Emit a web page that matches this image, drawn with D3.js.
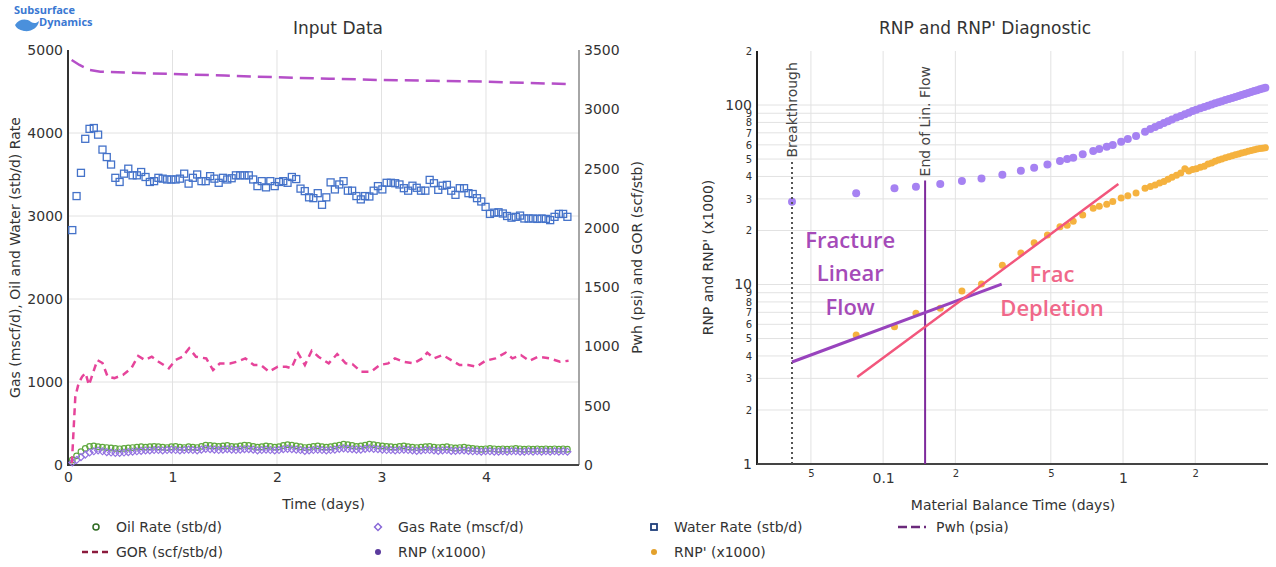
<!DOCTYPE html>
<html>
<head>
<meta charset="utf-8">
<script src="https://cdn.jsdelivr.net/npm/d3@7"></script>
<style>
  body { margin: 0; background: #fff; }
  svg text { font-family: "DejaVu Sans", Verdana, sans-serif; }
</style>
</head>
<body>
<svg id="chart" width="1276" height="567"></svg>
<script>
// ---- input data (left chart), hourly-ish samples ----
const inputTime = [
  0.041, 0.082, 0.124, 0.165, 0.206, 0.247, 0.288, 0.330, 0.371, 0.412,
  0.453, 0.494, 0.536, 0.577, 0.618, 0.659, 0.700, 0.742, 0.783, 0.824,
  0.865, 0.906, 0.948, 0.989, 1.030, 1.071, 1.112, 1.154, 1.195, 1.236,
  1.277, 1.318, 1.360, 1.401, 1.442, 1.483, 1.524, 1.566, 1.607, 1.648,
  1.689, 1.730, 1.772, 1.813, 1.854, 1.895, 1.936, 1.978, 2.019, 2.060,
  2.101, 2.142, 2.184, 2.225, 2.266, 2.307, 2.348, 2.390, 2.431, 2.472,
  2.513, 2.554, 2.596, 2.637, 2.678, 2.719, 2.760, 2.802, 2.843, 2.884,
  2.925, 2.966, 3.008, 3.049, 3.090, 3.131, 3.172, 3.214, 3.255, 3.296,
  3.337, 3.378, 3.420, 3.461, 3.502, 3.543, 3.584, 3.626, 3.667, 3.708,
  3.749, 3.790, 3.832, 3.873, 3.914, 3.955, 3.996, 4.038, 4.079, 4.120,
  4.161, 4.202, 4.244, 4.285, 4.326, 4.367, 4.408, 4.450, 4.491, 4.532,
  4.573, 4.614, 4.656, 4.697, 4.738, 4.779
]
const waterRate = [
  2830, 3240, 3520, 3930, 4050, 4060, 3980, 3800, 3710, 3620,
  3460, 3410, 3510, 3570, 3490, 3490, 3530, 3470, 3410, 3420,
  3460, 3450, 3440, 3440, 3440, 3450, 3510, 3390, 3460, 3500,
  3420, 3420, 3480, 3450, 3400, 3460, 3440, 3455, 3490, 3490,
  3490, 3490, 3440, 3360, 3420, 3345, 3420, 3360, 3410, 3420,
  3400, 3470, 3445, 3330, 3300, 3225, 3215, 3275, 3135, 3225,
  3405, 3320, 3380, 3420, 3305, 3305, 3240, 3200, 3240, 3235,
  3305, 3360, 3320, 3400, 3400, 3395, 3380, 3335, 3305, 3365,
  3340, 3305, 3305, 3435, 3395, 3315, 3365, 3375, 3305, 3255,
  3335, 3335, 3275, 3265, 3215, 3175, 3110, 3025, 3040, 3045,
  3030, 3000, 2980, 2990, 3005, 2970, 2970, 2970, 2965, 2970,
  2965, 2950, 2990, 3025, 3025, 2990
]
const oilRate = [
  60, 110, 160, 200, 225, 230, 220, 215, 210, 205,
  200, 195, 200, 205, 210, 215, 220, 215, 220, 225,
  220, 215, 210, 220, 225, 215, 210, 220, 215, 210,
  225, 240, 235, 230, 225, 230, 235, 225, 220, 230,
  240, 235, 225, 215, 220, 230, 225, 215, 220, 235,
  245, 240, 230, 220, 210, 215, 225, 230, 220, 215,
  220, 230, 240, 250, 245, 235, 225, 230, 240, 250,
  245, 235, 230, 225, 220, 215, 225, 230, 220, 215,
  210, 215, 220, 225, 215, 210, 215, 220, 210, 205,
  210, 215, 205, 200, 195, 190, 195, 200, 195, 190,
  195, 190, 195, 200, 195, 190, 195, 190, 195, 190,
  195, 190, 195, 190, 195, 190
]
const gasRate = [
  30, 60, 95, 125, 150, 165, 175, 165, 155, 150,
  145, 145, 150, 155, 160, 165, 170, 175, 175, 180,
  180, 175, 180, 185, 180, 175, 180, 185, 180, 175,
  185, 195, 190, 185, 180, 185, 190, 185, 180, 185,
  190, 190, 185, 175, 180, 185, 180, 175, 180, 190,
  195, 190, 185, 180, 170, 175, 180, 185, 180, 175,
  180, 185, 195, 200, 195, 190, 185, 185, 195, 200,
  195, 190, 185, 180, 180, 175, 180, 185, 180, 175,
  170, 175, 180, 180, 175, 170, 175, 180, 170, 170,
  175, 175, 170, 165, 165, 160, 165, 165, 160, 160,
  165, 160, 165, 165, 160, 160, 165, 160, 165, 160,
  165, 160, 165, 160, 165, 160
]
const gorTime = [
  0.037, 0.070, 0.102, 0.135, 0.168, 0.200, 0.281, 0.330, 0.379, 0.444,
  0.526, 0.607, 0.672, 0.737, 0.802, 0.867, 0.965, 1.030, 1.095, 1.160,
  1.225, 1.323, 1.388, 1.453, 1.551, 1.616, 1.697, 1.779, 1.844, 1.925,
  2.007, 2.088, 2.137, 2.202, 2.267, 2.332, 2.397, 2.495, 2.576, 2.657,
  2.722, 2.804, 2.901, 2.983, 3.064, 3.129, 3.211, 3.308, 3.390, 3.438,
  3.503, 3.585, 3.667, 3.748, 3.830, 3.911, 3.992, 4.090, 4.188, 4.253,
  4.334, 4.415, 4.497, 4.611, 4.708, 4.790
]
const gorValues = [
  15, 576, 690, 745, 775, 674, 885, 860, 745, 733,
  759, 818, 919, 885, 913, 871, 815, 885, 913, 984,
  913, 899, 801, 857, 857, 871, 899, 843, 843, 787,
  829, 829, 815, 942, 843, 964, 913, 857, 936, 857,
  851, 787, 787, 843, 857, 899, 871, 857, 899, 947,
  899, 927, 885, 843, 843, 829, 878, 899, 947, 899,
  927, 878, 913, 899, 871, 879
]
const pwhTime = [0.035, 0.11, 0.21, 0.31, 0.6, 1.0, 1.5, 2.0, 2.5, 3.0, 3.5, 4.0, 4.4, 4.79]
const pwhValues = [3416, 3374, 3331, 3317, 3308, 3298, 3284, 3270, 3258, 3247, 3240, 3233, 3222, 3213]

// ---- diagnostic data (right chart) ----
const mbt = [
  0.0417, 0.0772, 0.1115, 0.137, 0.173, 0.213, 0.257, 0.314, 0.375, 0.426,
  0.484, 0.546, 0.585, 0.620, 0.679, 0.751, 0.796, 0.855, 0.906, 0.982,
  1.047, 1.133, 1.235, 1.30, 1.36, 1.42, 1.48, 1.54, 1.60, 1.67,
  1.74, 1.81, 1.88, 1.95, 2.02, 2.10, 2.18, 2.26, 2.34, 2.42,
  2.50, 2.58, 2.67, 2.76, 2.85, 2.94, 3.03, 3.12, 3.22, 3.32,
  3.42, 3.52, 3.62, 3.72, 3.82, 3.92
]
const rnp = [
  28.9, 32.2, 34.4, 35.1, 36.3, 37.7, 39.0, 40.9, 43.1, 44.7,
  46.7, 48.7, 50.0, 50.9, 53.1, 55.4, 56.9, 58.6, 59.8, 62.5,
  64.7, 67.2, 71.0, 73.5, 75.5, 77.4, 79.3, 81.1, 83.0, 85.2,
  87.0, 88.9, 90.7, 92.6, 94.2, 96.0, 97.6, 99.2, 100.8, 102.2,
  103.6, 105.0, 106.5, 108.0, 109.5, 111.0, 112.4, 113.8, 115.3, 116.8,
  118.2, 119.6, 121.0, 122.3, 123.6, 124.8
]
const rnpPrime = [
  null, 5.23, 5.82, 6.91, 7.37, 9.20, 10.06, 12.8, 15.0, 17.1,
  18.9, 21.0, 21.4, 22.5, 24.4, 26.6, 27.3, 28.0, 29.0, 30.3,
  31.2, 32.4, 34.4, 35.2, 35.9, 36.8, 37.5, 38.6, 39.6, 40.6,
  41.8, 44.2, 42.9, 43.7, 44.2, 45.0, 45.6, 46.9, 47.6, 48.6,
  49.4, 50.0, 50.8, 51.5, 52.2, 52.8, 53.4, 54.0, 54.6, 55.2,
  55.8, 56.3, 56.8, 57.2, 57.5, 57.8
]
// straight-line fits drawn on the diagnostic plot [t, value]
const linearFlowFit = [[0.0417, 3.70], [0.312, 10.06]]
const depletionFit = [[0.078, 3.05], [0.956, 36.3]]
const breakthroughTime = 0.0417
const endLinearTime = 0.1496

// ticks
const rateTicks = [0, 1000, 2000, 3000, 4000, 5000]
const pressureTicks = [0, 500, 1000, 1500, 2000, 2500, 3000, 3500]
const timeTicks = [0, 1, 2, 3, 4]
const rnpTicks = [1, 2, 3, 4, 5, 6, 7, 8, 9, 10, 20, 30, 40, 50, 60, 70, 80, 90, 100, 200]
const mbtTicks = [0.05, 0.1, 0.2, 0.5, 1, 2]

const svg = d3.select('#chart')
const txtColor = '#333'

// ================= left chart: Input Data =================
const L = { x0: 68, x1: 579, top: 50, bottom: 465 }
const xTime = d3.scaleLinear().domain([0, 4.89]).range([L.x0, L.x1])
const yRate = d3.scaleLinear().domain([0, 5000]).range([L.bottom, L.top])
const yPres = d3.scaleLinear().domain([0, 3500]).range([L.bottom, L.top])

const gl = svg.append('g')

// grid
gl.selectAll('.vgrid').data(timeTicks.filter(d => d > 0)).enter().append('line')
  .attr('x1', d => xTime(d)).attr('x2', d => xTime(d))
  .attr('y1', L.top).attr('y2', L.bottom)
  .attr('stroke', '#e2e2e2').attr('stroke-width', 1)
gl.selectAll('.hgrid').data(rateTicks.filter(d => d > 0 && d < 5000)).enter().append('line')
  .attr('x1', L.x0).attr('x2', L.x1)
  .attr('y1', d => yRate(d)).attr('y2', d => yRate(d))
  .attr('stroke', '#e2e2e2').attr('stroke-width', 1)

// axes
const axL = gl.append('g').attr('transform', `translate(${L.x0},0)`)
  .call(d3.axisLeft(yRate).tickValues(rateTicks).tickSize(0).tickPadding(5).tickFormat(d3.format('d')))
const axR = gl.append('g').attr('transform', `translate(${L.x1},0)`)
  .call(d3.axisRight(yPres).tickValues(pressureTicks).tickSize(0).tickPadding(5).tickFormat(d3.format('d')))
const axB = gl.append('g').attr('transform', `translate(0,${L.bottom})`)
  .call(d3.axisBottom(xTime).tickValues(timeTicks).tickSize(0).tickPadding(7).tickFormat(d3.format('d')))
;[axL, axR, axB].forEach(a => {
  a.select('.domain').remove()
  a.selectAll('text').style('font-size', '14px').style('font-family', '"DejaVu Sans", Verdana, sans-serif').style('fill', txtColor)
})
gl.append('line').attr('x1', L.x1).attr('x2', L.x1).attr('y1', L.top).attr('y2', L.bottom)
  .attr('stroke', '#888').attr('stroke-width', 1.5)
gl.append('line').attr('x1', L.x0).attr('x2', L.x1).attr('y1', L.bottom).attr('y2', L.bottom)
  .attr('stroke', '#444').attr('stroke-width', 2)
gl.append('line').attr('x1', L.x0).attr('x2', L.x0).attr('y1', L.top).attr('y2', L.bottom + 1)
  .attr('stroke', '#333').attr('stroke-width', 2)

// series
const inputRows = inputTime.map((t, i) => ({ t, water: waterRate[i], oil: oilRate[i], gas: gasRate[i] }))

gl.selectAll('.oil').data(inputRows).enter().append('circle')
  .attr('cx', d => xTime(d.t)).attr('cy', d => yRate(d.oil)).attr('r', 2.8)
  .attr('fill', 'none').attr('stroke', '#5fa83e').attr('stroke-width', 1.2)

const diamond = d3.symbol().type(d3.symbolSquare).size(24)
gl.selectAll('.gas').data(inputRows).enter().append('path')
  .attr('d', diamond)
  .attr('transform', d => `translate(${xTime(d.t)},${yRate(d.gas)}) rotate(45)`)
  .attr('fill', 'none').attr('stroke', '#9473e0').attr('stroke-width', 1.2)

gl.selectAll('.water').data(inputRows).enter().append('rect')
  .attr('x', d => xTime(d.t) - 3.5).attr('y', d => yRate(d.water) - 3.5)
  .attr('width', 7).attr('height', 7)
  .attr('fill', 'none').attr('stroke', '#4472c9').attr('stroke-width', 1.3)

const pwhLine = d3.line().x((d, i) => xTime(pwhTime[i])).y(d => yPres(d))
gl.append('path').datum(pwhValues).attr('d', pwhLine)
  .attr('fill', 'none').attr('stroke', '#b54fc8').attr('stroke-width', 2.5)
  .attr('stroke-dasharray', '14,7')

const gorLine = d3.line().x((d, i) => xTime(gorTime[i])).y(d => yPres(d))
gl.append('path').datum(gorValues).attr('d', gorLine)
  .attr('fill', 'none').attr('stroke', '#e6449a').attr('stroke-width', 2.5)
  .attr('stroke-dasharray', '7,5')

// titles
gl.append('text').attr('x', 338).attr('y', 34).attr('text-anchor', 'middle')
  .style('font-size', '17px').style('fill', txtColor).text('Input Data')
gl.append('text').attr('x', (L.x0 + L.x1) / 2).attr('y', 509).attr('text-anchor', 'middle')
  .style('font-size', '14px').style('fill', txtColor).text('Time (days)')
gl.append('text').attr('transform', `translate(15,${(L.top + L.bottom) / 2}) rotate(-90)`)
  .attr('text-anchor', 'middle').attr('dy', '0.35em').style('font-size', '14px').style('fill', txtColor)
  .text('Gas (mscf/d), Oil and Water (stb/d) Rate')
gl.append('text').attr('transform', `translate(637,${(L.top + L.bottom) / 2}) rotate(-90)`)
  .attr('text-anchor', 'middle').attr('dy', '0.35em').style('font-size', '14px').style('fill', txtColor)
  .text('Pwh (psi) and GOR (scf/stb)')

// ================= right chart: RNP diagnostic =================
const R = { x0: 757, x1: 1268, top: 51, bottom: 464 }
const xMbt = d3.scaleLog().domain([0.0298, 4.02]).range([R.x0, R.x1])
const yRnp = d3.scaleLog().domain([1, 200]).range([R.bottom, R.top])

const gr = svg.append('g')

gr.selectAll('.hgrid').data(rnpTicks.filter(d => d > 1 && d < 200)).enter().append('line')
  .attr('x1', R.x0).attr('x2', R.x1)
  .attr('y1', d => yRnp(d)).attr('y2', d => yRnp(d))
  .attr('stroke', '#e2e2e2').attr('stroke-width', 1)
gr.selectAll('.vgrid').data(mbtTicks).enter().append('line')
  .attr('x1', d => xMbt(d)).attr('x2', d => xMbt(d))
  .attr('y1', R.top).attr('y2', R.bottom)
  .attr('stroke', '#e2e2e2').attr('stroke-width', 1)

const isMajor = d => Math.abs(Math.log10(d) - Math.round(Math.log10(d))) < 1e-9
const lead = d => isMajor(d) ? String(d) : String(Math.round(d / Math.pow(10, Math.floor(Math.log10(d) + 1e-9))))

const ayR = gr.append('g').attr('transform', `translate(${R.x0},0)`)
  .call(d3.axisLeft(yRnp).tickValues(rnpTicks).tickSize(0).tickPadding(5).tickFormat(lead))
const axRb = gr.append('g').attr('transform', `translate(0,${R.bottom})`)
  .call(d3.axisBottom(xMbt).tickValues(mbtTicks).tickSize(0).tickPadding(7).tickFormat(lead))
;[ayR, axRb].forEach(a => {
  a.select('.domain').remove()
  a.selectAll('text')
    .style('font-family', '"DejaVu Sans", Verdana, sans-serif')
    .style('font-size', d => isMajor(d) ? '14px' : '10px')
    .style('fill', txtColor)
})
axRb.selectAll('text').attr('dy', d => isMajor(d) ? '0.85em' : '0.6em')

gr.append('line').attr('x1', R.x0).attr('x2', R.x0).attr('y1', R.top).attr('y2', R.bottom + 1)
  .attr('stroke', '#222').attr('stroke-width', 2)
gr.append('line').attr('x1', R.x0).attr('x2', R.x1).attr('y1', R.bottom).attr('y2', R.bottom)
  .attr('stroke', '#444').attr('stroke-width', 2)

const diagRows = mbt.map((t, i) => ({ t, rnp: rnp[i], rnpPrime: rnpPrime[i] }))

gr.selectAll('.rnp').data(diagRows).enter().append('circle')
  .attr('cx', d => xMbt(d.t)).attr('cy', d => yRnp(d.rnp)).attr('r', 4)
  .attr('fill', '#a682f2')
gr.selectAll('.rnpp').data(diagRows.filter(d => d.rnpPrime != null)).enter().append('circle')
  .attr('cx', d => xMbt(d.t)).attr('cy', d => yRnp(d.rnpPrime)).attr('r', 3.5)
  .attr('fill', '#f5b23f')

// annotation lines
const fitLine = d3.line().x(d => xMbt(d[0])).y(d => yRnp(d[1]))
gr.append('line')
  .attr('x1', xMbt(breakthroughTime)).attr('x2', xMbt(breakthroughTime))
  .attr('y1', yRnp(1)).attr('y2', yRnp(49))
  .attr('stroke', '#555').attr('stroke-width', 2).attr('stroke-dasharray', '2,3')
gr.append('line')
  .attr('x1', xMbt(endLinearTime)).attr('x2', xMbt(endLinearTime))
  .attr('y1', yRnp(1)).attr('y2', yRnp(38))
  .attr('stroke', '#7e2a9c').attr('stroke-width', 2)
gr.append('path').datum(linearFlowFit).attr('d', fitLine)
  .attr('fill', 'none').attr('stroke', '#9843bd').attr('stroke-width', 3)
gr.append('path').datum(depletionFit).attr('d', fitLine)
  .attr('fill', 'none').attr('stroke', '#f2567c').attr('stroke-width', 2.5)

gr.append('text').attr('transform', `translate(${xMbt(breakthroughTime) + 5},${yRnp(51)}) rotate(-90)`)
  .style('font-size', '14px').style('fill', '#444').text('Breakthrough')
gr.append('text').attr('transform', `translate(${xMbt(endLinearTime) + 5},${yRnp(40)}) rotate(-90)`)
  .style('font-size', '14px').style('fill', '#444').text('End of Lin. Flow')

const noteFont = '"Open Sans", "Noto Sans", sans-serif'
;[['Fracture', 17.7], ['Linear', 11.6], ['Flow', 7.5]].forEach(([s, v]) => {
  gr.append('text').attr('x', xMbt(0.0729)).attr('y', yRnp(v)).attr('dy', '0.35em')
    .attr('text-anchor', 'middle').style('fill', '#a54ab8')
    .style('font-family', noteFont).style('font-size', '22px').style('font-weight', 600).text(s)
})
;[['Frac', 11.4], ['Depletion', 7.4]].forEach(([s, v]) => {
  gr.append('text').attr('x', xMbt(0.506)).attr('y', yRnp(v)).attr('dy', '0.35em')
    .attr('text-anchor', 'middle').style('fill', '#f0688a')
    .style('font-family', noteFont).style('font-size', '22px').style('font-weight', 600).text(s)
})

gr.append('text').attr('x', 985).attr('y', 34).attr('text-anchor', 'middle')
  .style('font-size', '17px').style('fill', txtColor).text("RNP and RNP' Diagnostic")
gr.append('text').attr('x', 1013).attr('y', 510).attr('text-anchor', 'middle')
  .style('font-size', '14px').style('fill', txtColor).text('Material Balance Time (days)')
gr.append('text').attr('transform', `translate(708,${(R.top + R.bottom) / 2}) rotate(-90)`)
  .attr('text-anchor', 'middle').attr('dy', '0.35em').style('font-size', '14px').style('fill', txtColor)
  .text("RNP and RNP' (x1000)")

// ================= legend =================
const lg = svg.append('g')
const row1 = 527, row2 = 552
lg.append('circle').attr('cx', 96).attr('cy', row1).attr('r', 3)
  .attr('fill', 'none').attr('stroke', '#2f6b22').attr('stroke-width', 1.5)
lg.append('path').attr('d', diamond).attr('transform', `translate(378,${row1}) rotate(45)`)
  .attr('fill', 'none').attr('stroke', '#8a6ad8').attr('stroke-width', 1.5)
lg.append('rect').attr('x', 651).attr('y', row1 - 3).attr('width', 6).attr('height', 6)
  .attr('fill', 'none').attr('stroke', '#1f3f7a').attr('stroke-width', 1.8)
lg.append('line').attr('x1', 898).attr('x2', 929).attr('y1', row1).attr('y2', row1)
  .attr('stroke', '#6b2a7b').attr('stroke-width', 2.5).attr('stroke-dasharray', '9,4,9,4,2')
lg.append('line').attr('x1', 82).attr('x2', 112).attr('y1', row2).attr('y2', row2)
  .attr('stroke', '#8b1a3c').attr('stroke-width', 2.5).attr('stroke-dasharray', '6,4')
lg.append('circle').attr('cx', 378).attr('cy', row2).attr('r', 3).attr('fill', '#5b3b9e')
lg.append('circle').attr('cx', 654).attr('cy', row2).attr('r', 3).attr('fill', '#e3a12c')

const legendItems = [
  ['Oil Rate (stb/d)', 116, row1], ['Gas Rate (mscf/d)', 398, row1],
  ['Water Rate (stb/d)', 674, row1], ['Pwh (psia)', 936, row1],
  ['GOR (scf/stb/d)', 116, row2], ['RNP (x1000)', 398, row2], ["RNP' (x1000)", 674, row2]
]
lg.selectAll('.lt').data(legendItems).enter().append('text')
  .attr('x', d => d[1]).attr('y', d => d[2]).attr('dy', '0.35em')
  .style('font-size', '14px').style('fill', txtColor).text(d => d[0])

// ================= logo =================
const logo = svg.append('g')
logo.append('path')
  .attr('d', 'M15,25 C19,19 26,18 31,22 C34,24 37,23 39,21 C38,28 31,32 24,31 C19,30 16,28 15,25 Z')
  .attr('fill', '#4a90dc')
logo.append('text').attr('x', 14).attr('y', 14).style('fill', '#3a78d2')
  .style('font-family', '"Open Sans", sans-serif').style('font-weight', 700).style('font-size', '11px').text('Subsurface')
logo.append('text').attr('x', 39).attr('y', 26).style('fill', '#3a78d2')
  .style('font-family', '"Open Sans", sans-serif').style('font-weight', 700).style('font-size', '11px').text('Dynamics')
</script>
</body>
</html>
